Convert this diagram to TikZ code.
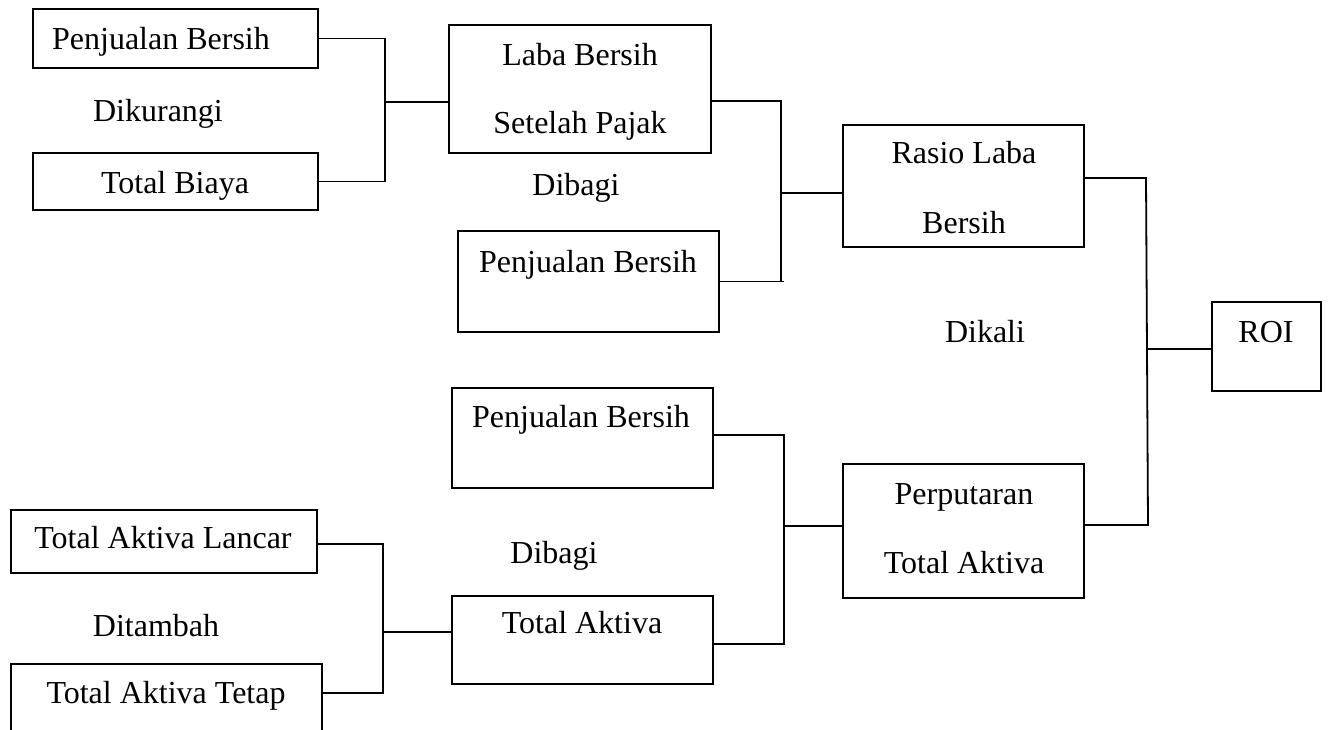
\documentclass[tikz,border=0pt]{standalone}
\usepackage{fontspec}
\setmainfont{Liberation Serif}
\begin{document}
\begin{tikzpicture}[x=1pt,y=-1pt,
  box/.style={draw=black,line width=1.9pt,rectangle,inner sep=0pt,minimum width=#1},
  txt/.style={anchor=base,inner sep=0pt,font=\fontsize{32}{38}\selectfont},
  conn/.style={draw=black,line width=1.8pt}]
\useasboundingbox (0,0) rectangle (1328,729);
\fill[white] (0,0) rectangle (1328,729);
% boxes
\node[box=285pt,minimum height=59pt] (b1) at (175.5,38.5) {};
\node[box=285pt,minimum height=57pt] (b2) at (175.5,181.5) {};
\node[box=262pt,minimum height=128pt] (b3) at (580,89) {};
\node[box=261pt,minimum height=101pt] (b4) at (588.5,281.5) {};
\node[box=241pt,minimum height=122pt] (b5) at (963.5,186) {};
\node[box=109pt,minimum height=89pt] (roi) at (1266.5,346.5) {};
\node[box=241pt,minimum height=134pt] (b6) at (963.5,531) {};
\node[box=261pt,minimum height=100pt] (b7) at (582.5,438) {};
\node[box=261pt,minimum height=88pt] (b8) at (582.5,640) {};
\node[box=306pt,minimum height=63pt] (b9) at (164,541.5) {};
\node[box=311pt,minimum height=100pt] (b10) at (166.5,714) {};
% texts
\node[txt] (t1) at (161,49) {Penjualan Bersih};
\node[txt] (o1) at (158,121) {Dikurangi};
\node[txt] (t2) at (175,193) {Total Biaya};
\node[txt] (t3a) at (580,65) {Laba Bersih};
\node[txt] (t3b) at (580,133) {Setelah Pajak};
\node[txt] (o2) at (576,195) {Dibagi};
\node[txt] (t4) at (588,272) {Penjualan Bersih};
\node[txt] (t5a) at (964,163) {Rasio Laba};
\node[txt] (t5b) at (964,233) {Bersih};
\node[txt] (o3) at (985,342) {Dikali};
\node[txt] (troi) at (1266,342) {ROI};
\node[txt] (t6a) at (964,504) {Perputaran};
\node[txt] (t6b) at (964,573) {Total Aktiva};
\node[txt] (t7) at (581,427) {Penjualan Bersih};
\node[txt] (o4) at (554,563) {Dibagi};
\node[txt] (t8) at (582,633) {Total Aktiva};
\node[txt] (t9) at (163,548) {Total Aktiva Lancar};
\node[txt] (o5) at (156,636) {Ditambah};
\node[txt] (t10) at (166,703) {Total Aktiva Tetap};
% junction coordinates
\coordinate (j1) at (385,102);
\coordinate (j2t) at (781,101);
\coordinate (j2) at (781,193);
\coordinate (j2b) at (784,281.5);
\coordinate (j3t) at (1146,178);
\coordinate (j3) at (1147,349);
\coordinate (j3b) at (1148,525);
\coordinate (j4t) at (784,435);
\coordinate (j4) at (784,526);
\coordinate (j4b) at (784,644);
\coordinate (j5t) at (383,544);
\coordinate (j5) at (383,632);
\coordinate (j5b) at (383,693);
% connectors
\draw[conn] (b1.east) -- (b1.east -| j1) -- (b2.east -| j1) -- (b2.east);
\draw[conn] (j1) -- (j1 -| b3.west);
\draw[conn] (j2t -| b3.east) -- (j2t) -- (j2t |- b4.east);
\draw[conn] (b4.east) -- (j2b);
\draw[conn] (j2) -- (j2 -| b5.west);
\draw[conn] (j3t -| b5.east) -- (j3t) -- (j3b) -- (j3b -| b6.east);
\draw[conn] (j3) -- (j3 -| roi.west);
\draw[conn] (j4t -| b7.east) -- (j4t) -- (j4b) -- (j4b -| b8.east);
\draw[conn] (j4) -- (j4 -| b6.west);
\draw[conn] (j5t -| b9.east) -- (j5t) -- (j5b) -- (j5b -| b10.east);
\draw[conn] (j5) -- (j5 -| b8.west);
\end{tikzpicture}
\end{document}
